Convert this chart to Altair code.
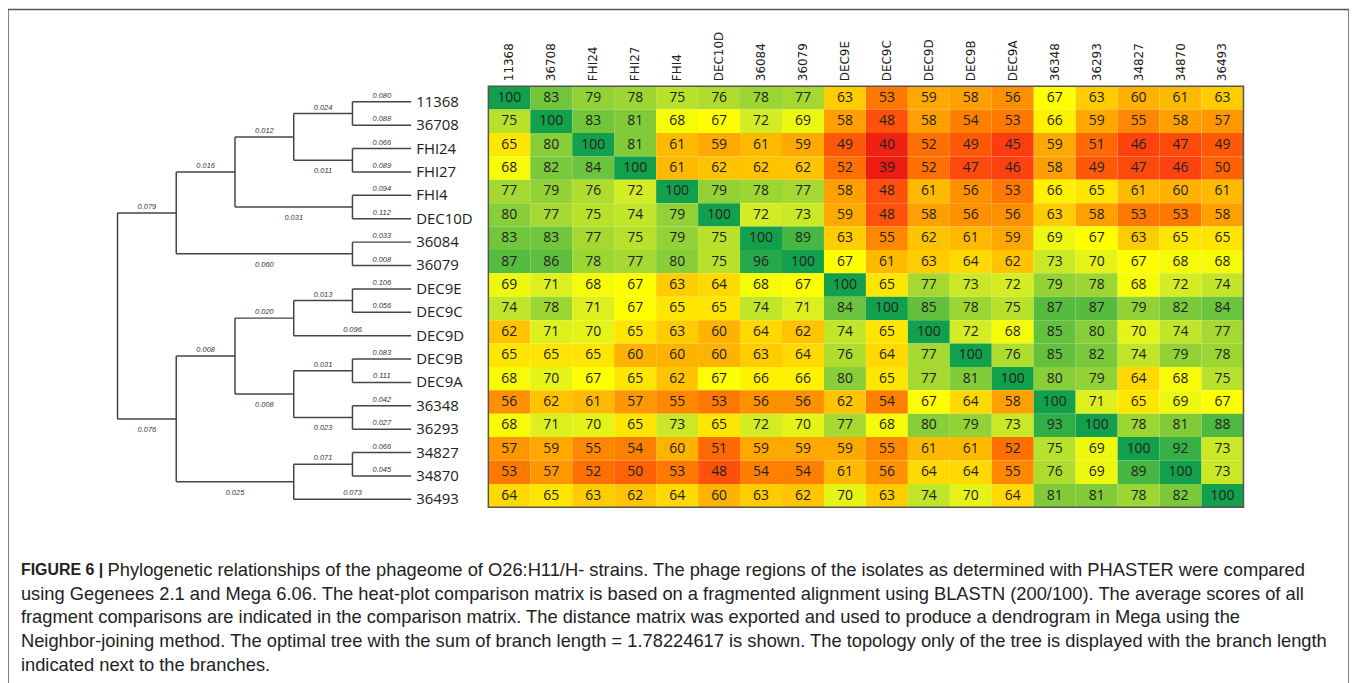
import altair as alt
import pandas as pd

# ---------------- data ----------------
strains = ["11368", "36708", "FHI24", "FHI27", "FHI4", "DEC10D", "36084", "36079",
           "DEC9E", "DEC9C", "DEC9D", "DEC9B", "DEC9A", "36348", "36293", "34827",
           "34870", "36493"]

row_11368 = [100, 83, 79, 78, 75, 76, 78, 77, 63, 53, 59, 58, 56, 67, 63, 60, 61, 63]
row_36708 = [75, 100, 83, 81, 68, 67, 72, 69, 58, 48, 58, 54, 53, 66, 59, 55, 58, 57]
row_FHI24 = [65, 80, 100, 81, 61, 59, 61, 59, 49, 40, 52, 49, 45, 59, 51, 46, 47, 49]
row_FHI27 = [68, 82, 84, 100, 61, 62, 62, 62, 52, 39, 52, 47, 46, 58, 49, 47, 46, 50]
row_FHI4 = [77, 79, 76, 72, 100, 79, 78, 77, 58, 48, 61, 56, 53, 66, 65, 61, 60, 61]
row_DEC10D = [80, 77, 75, 74, 79, 100, 72, 73, 59, 48, 58, 56, 56, 63, 58, 53, 53, 58]
row_36084 = [83, 83, 77, 75, 79, 75, 100, 89, 63, 55, 62, 61, 59, 69, 67, 63, 65, 65]
row_36079 = [87, 86, 78, 77, 80, 75, 96, 100, 67, 61, 63, 64, 62, 73, 70, 67, 68, 68]
row_DEC9E = [69, 71, 68, 67, 63, 64, 68, 67, 100, 65, 77, 73, 72, 79, 78, 68, 72, 74]
row_DEC9C = [74, 78, 71, 67, 65, 65, 74, 71, 84, 100, 85, 78, 75, 87, 87, 79, 82, 84]
row_DEC9D = [62, 71, 70, 65, 63, 60, 64, 62, 74, 65, 100, 72, 68, 85, 80, 70, 74, 77]
row_DEC9B = [65, 65, 65, 60, 60, 60, 63, 64, 76, 64, 77, 100, 76, 85, 82, 74, 79, 78]
row_DEC9A = [68, 70, 67, 65, 62, 67, 66, 66, 80, 65, 77, 81, 100, 80, 79, 64, 68, 75]
row_36348 = [56, 62, 61, 57, 55, 53, 56, 56, 62, 54, 67, 64, 58, 100, 71, 65, 69, 67]
row_36293 = [68, 71, 70, 65, 73, 65, 72, 70, 77, 68, 80, 79, 73, 93, 100, 78, 81, 88]
row_34827 = [57, 59, 55, 54, 60, 51, 59, 59, 59, 55, 61, 61, 52, 75, 69, 100, 92, 73]
row_34870 = [53, 57, 52, 50, 53, 48, 54, 54, 61, 56, 64, 64, 55, 76, 69, 89, 100, 73]
row_36493 = [64, 65, 63, 62, 64, 60, 63, 62, 70, 63, 74, 70, 64, 81, 81, 78, 82, 100]

matrix = [row_11368, row_36708, row_FHI24, row_FHI27, row_FHI4, row_DEC10D, row_36084,
          row_36079, row_DEC9E, row_DEC9C, row_DEC9D, row_DEC9B, row_DEC9A, row_36348,
          row_36293, row_34827, row_34870, row_36493]

# tree edges: child, parent, branch length label
edge_child = ["A", "H", "B", "G", "C", "F", "D", "E", "11368", "36708", "FHI24", "FHI27",
              "FHI4", "DEC10D", "36084", "36079", "I", "O", "J", "L", "K", "DEC9D",
              "DEC9E", "DEC9C", "M", "N", "DEC9B", "DEC9A", "36348", "36293", "P", "36493",
              "34827", "34870"]
edge_parent = ["root", "root", "A", "A", "B", "B", "C", "C", "D", "D", "E", "E",
               "F", "F", "G", "G", "H", "H", "I", "I", "J", "J",
               "K", "K", "L", "L", "M", "M", "N", "N", "O", "O",
               "P", "P"]
edge_length = ["0.079", "0.076", "0.016", "0.060", "0.012", "0.031", "0.024", "0.011",
               "0.080", "0.088", "0.066", "0.089", "0.094", "0.112", "0.033", "0.008",
               "0.008", "0.025", "0.020", "0.008", "0.013", "0.096", "0.106", "0.056",
               "0.031", "0.023", "0.083", "0.111", "0.042", "0.027", "0.071", "0.073",
               "0.066", "0.045"]

caption_bold = "FIGURE 6 |"
caption_lines = [
    "Phylogenetic relationships of the phageome of O26:H11/H- strains. The phage regions of the isolates as determined with PHASTER were compared",
    "using Gegenees 2.1 and Mega 6.06. The heat-plot comparison matrix is based on a fragmented alignment using BLASTN (200/100). The average scores of all",
    "fragment comparisons are indicated in the comparison matrix. The distance matrix was exported and used to produce a dendrogram in Mega using the",
    "Neighbor-joining method. The optimal tree with the sum of branch length = 1.78224617 is shown. The topology only of the tree is displayed with the branch length",
    "indicated next to the branches.",
]

color_stops = [39, 46, 52, 58, 63, 67, 72, 80, 90, 100]
color_values = ["#EC1C10", "#FF4210", "#FF7000", "#FFA000", "#FFCC00", "#FFFF00",
                "#D4EC24", "#88CE38", "#40B444", "#12A04C"]

# ---------------- tables ----------------
n = len(strains)
cells = []
for i, row in enumerate(matrix):
    for j, v in enumerate(row):
        cells.append({"r": i, "c": j, "v": v})
cells = pd.DataFrame(cells)
cells["r2"] = cells["r"] + 1
cells["c2"] = cells["c"] + 1
cells["rm"] = cells["r"] + 0.5
cells["cm"] = cells["c"] + 0.5

cols = pd.DataFrame({"c": [j + 0.5 for j in range(n)], "name": strains})
frame = pd.DataFrame({"x0": [0], "x1": [n], "y0": [0], "y1": [n]})

# tree geometry (topology only: level = depth of tallest subtree)
children = {}
for ch, pa in zip(edge_child, edge_parent):
    children.setdefault(pa, []).append(ch)


def height(node):
    if node not in children:
        return 0
    return 1 + max(height(c) for c in children[node])


H = height("root")
level = {}
ypos = {}


def place(node):
    level[node] = H - height(node)
    if node not in children:
        ypos[node] = strains.index(node)
    else:
        for c in children[node]:
            place(c)
        ks = children[node]
        ypos[node] = (ypos[ks[0]] + ypos[ks[-1]]) / 2


place("root")

segs = []
for ch, pa in zip(edge_child, edge_parent):
    segs.append({"x": level[pa], "x2": level[ch], "y": ypos[ch], "y2": ypos[ch]})
for node, ks in children.items():
    segs.append({"x": level[node], "x2": level[node], "y": ypos[ks[0]], "y2": ypos[ks[-1]]})
segs = pd.DataFrame(segs)

labs = []
for ch, pa, ln in zip(edge_child, edge_parent, edge_length):
    below = (ch in children) and (children[pa][-1] == ch)
    labs.append({"x": (level[pa] + level[ch]) / 2, "y": ypos[ch], "t": ln,
                 "pos": "below" if below else "above"})
labs = pd.DataFrame(labs)
leaves = pd.DataFrame({"x": [H] * n, "y": list(range(n)), "t": strains})

cap = pd.DataFrame({"i": list(range(len(caption_lines))), "t": caption_lines})

# ---------------- scales ----------------
hx = alt.Scale(domain=[0, n], range=[482.5, 1241], nice=False, zero=False)
hy = alt.Scale(domain=[0, n], range=[77, 500], nice=False, zero=False)
tx = alt.Scale(domain=[0, H], range=[110, 405], nice=False, zero=False)
ty = alt.Scale(domain=[0, n - 1], range=[92.7, 492], nice=False, zero=False)
cy = alt.Scale(domain=[0, len(caption_lines) - 1], range=[563, 658], nice=False, zero=False)

# ---------------- heatmap ----------------
rects = alt.Chart(cells).mark_rect(strokeWidth=0).encode(
    x=alt.X("c:Q", scale=hx, axis=None), x2="c2",
    y=alt.Y("r:Q", scale=hy, axis=None), y2="r2",
    color=alt.Color("v:Q", scale=alt.Scale(domain=color_stops, range=color_values,
                                           interpolate="rgb"), legend=None),
)
nums = alt.Chart(cells).mark_text(font="Open Sans", fontSize=14, color="#222",
                                  baseline="middle", align="center").encode(
    x=alt.X("cm:Q", scale=hx, axis=None),
    y=alt.Y("rm:Q", scale=hy, axis=None),
    text="v:Q",
)
border = alt.Chart(frame).mark_rect(fillOpacity=0, stroke="#555", strokeWidth=1.5).encode(
    x=alt.X("x0:Q", scale=hx, axis=None), x2="x1",
    y=alt.Y("y0:Q", scale=hy, axis=None), y2="y1",
)
collabs = alt.Chart(cols).mark_text(font="DejaVu Sans", fontSize=12, color="#222",
                                    angle=270, align="left", baseline="middle").encode(
    x=alt.X("c:Q", scale=hx, axis=None),
    y=alt.value(72),
    text="name:N",
)

# ---------------- tree ----------------
branches = alt.Chart(segs).mark_rule(color="#444", strokeWidth=1.5).encode(
    x=alt.X("x:Q", scale=tx, axis=None), x2="x2",
    y=alt.Y("y:Q", scale=ty, axis=None), y2="y2",
)
above = alt.Chart(labs).transform_filter("datum.pos == 'above'").mark_text(
    font="Liberation Sans", fontSize=7.5, fontStyle="italic", color="#333",
    baseline="middle", dy=-6).encode(
    x=alt.X("x:Q", scale=tx, axis=None),
    y=alt.Y("y:Q", scale=ty, axis=None),
    text="t:N",
)
below = alt.Chart(labs).transform_filter("datum.pos == 'below'").mark_text(
    font="Liberation Sans", fontSize=7.5, fontStyle="italic", color="#333",
    baseline="middle", dy=11).encode(
    x=alt.X("x:Q", scale=tx, axis=None),
    y=alt.Y("y:Q", scale=ty, axis=None),
    text="t:N",
)
leaf_text = alt.Chart(leaves).mark_text(font="Open Sans", fontSize=15, color="#222",
                                        align="left", baseline="middle", dx=5).encode(
    x=alt.X("x:Q", scale=tx, axis=None),
    y=alt.Y("y:Q", scale=ty, axis=None),
    text="t:N",
)

# ---------------- caption ----------------
cap_bold = alt.Chart(cap).transform_filter("datum.i == 0").mark_text(
    font="Liberation Sans", fontSize=16, fontWeight="bold", color="#222",
    align="left", baseline="middle").encode(
    x=alt.value(13),
    y=alt.Y("i:Q", scale=cy, axis=None),
    text=alt.value(caption_bold),
)
cap_first = alt.Chart(cap).transform_filter("datum.i == 0").mark_text(
    font="Liberation Sans", fontSize=18.4, color="#222", align="left", baseline="middle",
    dx=87).encode(
    x=alt.value(13),
    y=alt.Y("i:Q", scale=cy, axis=None),
    text="t:N",
)
cap_rest = alt.Chart(cap).transform_filter("datum.i > 0").mark_text(
    font="Liberation Sans", fontSize=18.4, color="#222", align="left", baseline="middle").encode(
    x=alt.value(13),
    y=alt.Y("i:Q", scale=cy, axis=None),
    text="t:N",
)

chart = alt.layer(
    rects, nums, border, collabs, branches, above, below, leaf_text,
    cap_bold, cap_first, cap_rest,
).resolve_scale(
    x="independent", y="independent", color="independent"
).properties(
    width=1347, height=690, padding=0, autosize=alt.AutoSizeParams(type="none"),
    background="white",
).configure_view(stroke="#555", strokeWidth=1.5)

chart.save("out.html", embed_options={"renderer": "svg", "actions": False})
